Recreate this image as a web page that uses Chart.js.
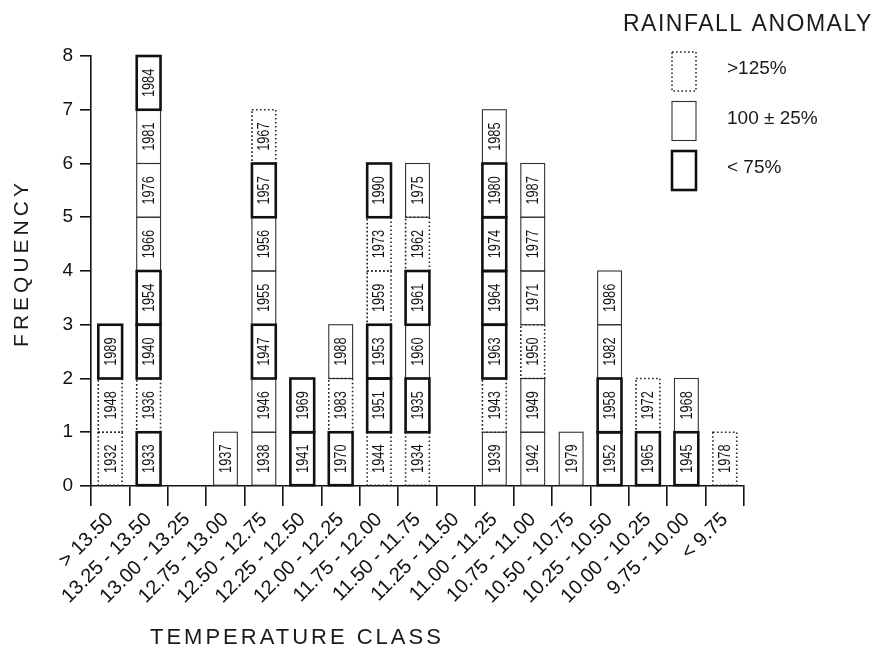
<!DOCTYPE html>
<html lang="en">
<head>
<meta charset="UTF-8">
<title>Temperature class frequency</title>
<style>
  body { margin: 0; background: #fff; }
  canvas { display: block; }
</style>
<script src="https://cdn.jsdelivr.net/npm/chart.js"></script>
</head>
<body>
<canvas id="chart" width="879" height="648"></canvas>
<script>
// temperature classes on the x axis
const tempClasses = [
  "> 13.50", "13.25 - 13.50", "13.00 - 13.25", "12.75 - 13.00", "12.50 - 12.75",
  "12.25 - 12.50", "12.00 - 12.25", "11.75 - 12.00", "11.50 - 11.75", "11.25 - 11.50",
  "11.00 - 11.25", "10.75 - 11.00", "10.50 - 10.75", "10.25 - 10.50", "10.00 - 10.25",
  "9.75 - 10.00", "< 9.75"
];

// years stacked in each class, bottom to top
const yearsByClass = [
  [1932, 1948, 1989],
  [1933, 1936, 1940, 1954, 1966, 1976, 1981, 1984],
  [],
  [1937],
  [1938, 1946, 1947, 1955, 1956, 1957, 1967],
  [1941, 1969],
  [1970, 1983, 1988],
  [1944, 1951, 1953, 1959, 1973, 1990],
  [1934, 1935, 1960, 1961, 1962, 1975],
  [],
  [1939, 1943, 1963, 1964, 1974, 1980, 1985],
  [1942, 1949, 1950, 1971, 1977, 1987],
  [1979],
  [1952, 1958, 1982, 1986],
  [1965, 1972],
  [1945, 1968],
  [1978]
];

// rainfall anomaly of each year: W = >125%, N = 100 +- 25%, D = <75%
const rainByClass = [
  ["W", "W", "D"],
  ["D", "W", "D", "D", "N", "N", "N", "D"],
  [],
  ["N"],
  ["N", "N", "D", "N", "N", "D", "W"],
  ["D", "D"],
  ["D", "W", "N"],
  ["W", "D", "D", "W", "W", "D"],
  ["W", "D", "N", "D", "W", "N"],
  [],
  ["N", "W", "D", "D", "D", "D", "N"],
  ["N", "N", "W", "N", "N", "N"],
  ["N"],
  ["D", "D", "N", "N"],
  ["D", "W"],
  ["D", "N"],
  ["W"]
];

const legendCodes = ["W", "N", "D"];
const legendLabels = [">125%", "100 \u00B1 25%", "< 75%"];

const boxStyles = {
  W: { width: 1.6, dash: [1.6, 2.4], color: '#222' },
  N: { width: 1.1, dash: [], color: '#333' },
  D: { width: 2.6, dash: [], color: '#111' }
};
const drawOrder = ["N", "W", "D"];

// one dataset per stack level
const maxLevel = Math.max(...yearsByClass.map(y => y.length));
const datasets = [];
for (let l = 0; l < maxLevel; l++) {
  datasets.push({
    label: 'level ' + l,
    data: yearsByClass.map(y => (y.length > l ? 1 : null)),
    backgroundColor: 'rgba(0,0,0,0)',
    borderWidth: 0,
    barPercentage: 0.62,
    categoryPercentage: 1
  });
}

function strokeBox(ctx, x, y, w, h, code) {
  const s = boxStyles[code];
  ctx.save();
  ctx.strokeStyle = s.color;
  ctx.lineWidth = s.width;
  ctx.setLineDash(s.dash);
  ctx.strokeRect(x, y, w, h);
  ctx.restore();
}

const yearBoxes = {
  id: 'yearBoxes',
  afterDatasetsDraw(chart) {
    const ctx = chart.ctx;
    const boxes = [];
    chart.data.datasets.forEach((ds, l) => {
      const meta = chart.getDatasetMeta(l);
      meta.data.forEach((el, i) => {
        if (ds.data[i] == null) return;
        const p = el.getProps(['x', 'y', 'base', 'width'], true);
        boxes.push({
          x: p.x - p.width / 2, y: p.y, w: p.width, h: p.base - p.y,
          year: yearsByClass[i][l], code: rainByClass[i][l]
        });
      });
    });
    drawOrder.forEach(code => {
      boxes.filter(b => b.code === code).forEach(b => strokeBox(ctx, b.x, b.y, b.w, b.h, code));
    });
    boxes.forEach(b => {
      ctx.save();
      ctx.translate(b.x + b.w / 2, b.y + b.h / 2);
      ctx.rotate(-Math.PI / 2);
      ctx.scale(0.8, 1);
      ctx.font = '16px "Liberation Sans", Arial, sans-serif';
      ctx.fillStyle = '#111';
      ctx.textAlign = 'center';
      ctx.textBaseline = 'middle';
      ctx.fillText(String(b.year), 0, 1);
      ctx.restore();
    });
  },
  afterDraw(chart) {
    const ctx = chart.ctx;
    ctx.save();
    ctx.fillStyle = '#1a1a1a';
    // legend
    ctx.font = '23px "Liberation Sans", Arial, sans-serif';
    ctx.letterSpacing = '1.5px';
    ctx.textAlign = 'left';
    ctx.textBaseline = 'middle';
    ctx.fillText('RAINFALL ANOMALY', 623, 25);
    ctx.letterSpacing = '0px';
    ctx.font = '19px "Liberation Sans", Arial, sans-serif';
    legendCodes.forEach((code, k) => {
      const top = 52 + k * 49.5;
      strokeBox(ctx, 672, top, 24, 39, code);
      ctx.fillText(legendLabels[k], 727, top + 17);
    });
    // axis titles
    ctx.font = '22px "Liberation Sans", Arial, sans-serif';
    ctx.letterSpacing = '3px';
    ctx.textAlign = 'left';
    ctx.textBaseline = 'alphabetic';
    ctx.fillText('TEMPERATURE CLASS', 150, 644);
    ctx.translate(28, 263);
    ctx.rotate(-Math.PI / 2);
    ctx.letterSpacing = '4px';
    ctx.textAlign = 'center';
    ctx.font = '21px "Liberation Sans", Arial, sans-serif';
    ctx.fillText('FREQUENCY', 0, 0);
    ctx.restore();
  }
};

new Chart(document.getElementById('chart'), {
  type: 'bar',
  data: { labels: tempClasses, datasets: datasets },
  plugins: [yearBoxes],
  options: {
    responsive: false,
    animation: false,
    layout: { padding: { top: 56, right: 135, bottom: 0, left: 0 } },
    plugins: { legend: { display: false }, tooltip: { enabled: false } },
    scales: {
      x: {
        stacked: true,
        offset: true,
        afterFit: s => { s.height = 162; },
        border: { color: '#111', width: 1.6 },
        grid: { offset: true, drawOnChartArea: false, drawTicks: true, tickLength: 20, color: '#111', lineWidth: 1.6 },
        ticks: {
          autoSkip: false, minRotation: 45, maxRotation: 45, padding: 2,
          color: '#111', font: { family: '"Liberation Sans", Arial, sans-serif', size: 20 }
        }
      },
      y: {
        stacked: true,
        min: 0, max: 8,
        afterFit: s => { s.width = 91; },
        border: { color: '#111', width: 1.6 },
        grid: { drawOnChartArea: false, drawTicks: true, tickLength: 11, color: '#111', lineWidth: 1.6 },
        ticks: {
          stepSize: 1, padding: 7,
          color: '#111', font: { family: '"Liberation Sans", Arial, sans-serif', size: 19 }
        }
      }
    }
  }
});
</script>
</body>
</html>
